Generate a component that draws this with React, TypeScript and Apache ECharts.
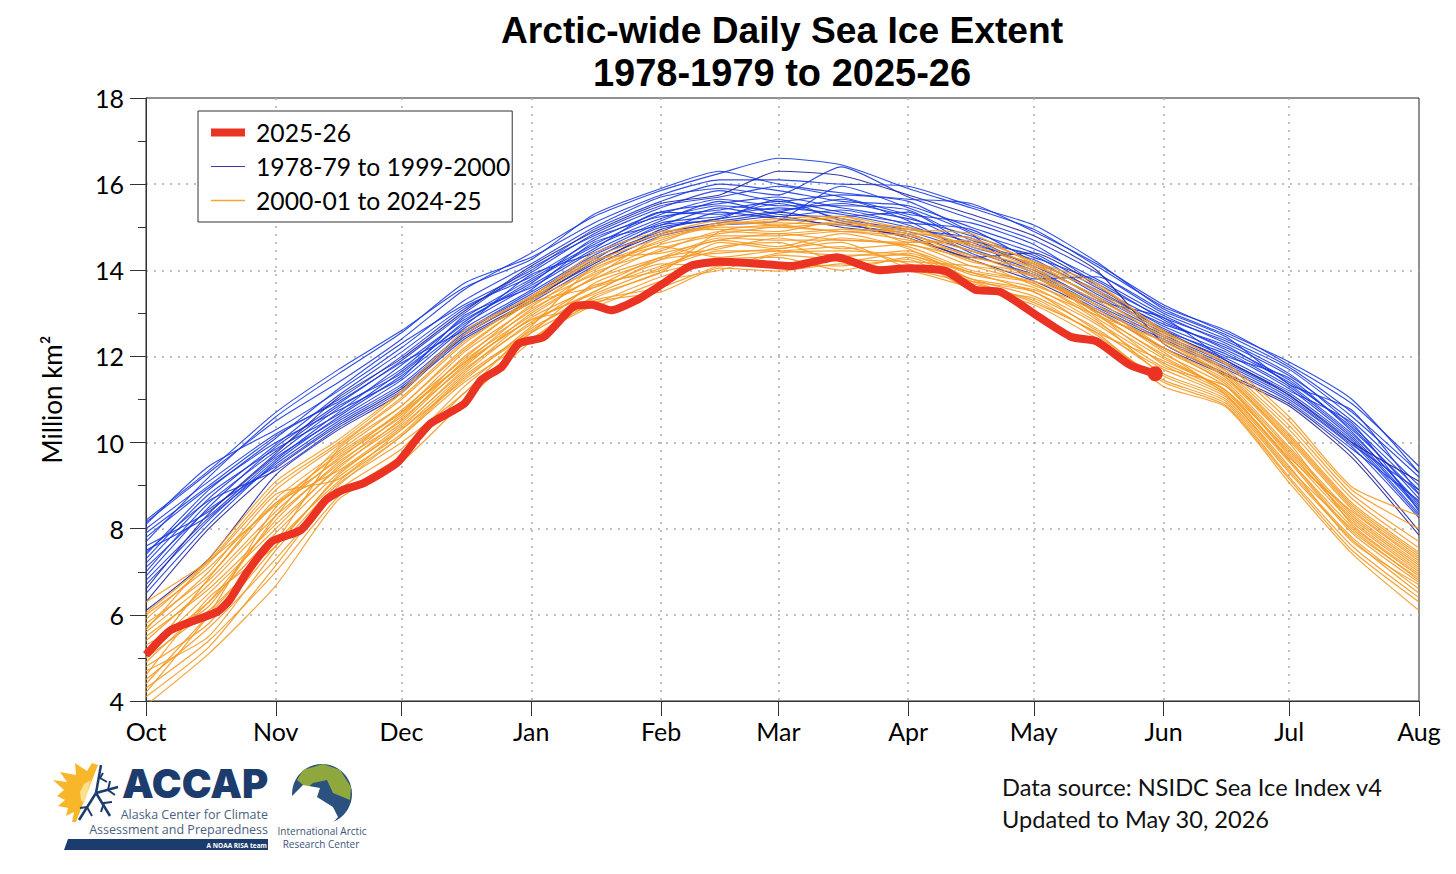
import React, { useEffect, useRef } from "react";
import * as echarts from "echarts";

const titleLines = ["Arctic-wide Daily Sea Ice Extent", "1978-1979 to 2025-26"];
const monthDays = [0, 31, 61, 92, 123, 151, 182, 212, 243, 273, 304];
const monthLabels = ["Oct", "Nov", "Dec", "Jan", "Feb", "Mar", "Apr", "May", "Jun", "Jul", "Aug"];
const knotDays = [0, 15, 31, 46, 61, 76, 92, 107, 123, 137, 151, 166, 182, 197, 212, 227, 243, 258, 273, 288, 304];

const redName = "2025-26";
const blueName = "1978-79 to 1999-2000";
const orangeName = "2000-01 to 2024-25";

const redDays = [0, 6, 17, 20, 24, 30, 37, 43, 47, 52, 60, 65, 68, 76, 80, 85, 89, 95, 102, 106.5, 111, 117, 123, 130, 137, 144, 154, 165, 175, 182, 191, 198, 204, 213.5, 221, 227, 235, 241];
const redValues = [5.07, 5.65, 6.07, 6.35, 6.97, 7.7, 7.97, 8.67, 8.9, 9.06, 9.53, 10.13, 10.45, 10.9, 11.45, 11.76, 12.3, 12.45, 13.15, 13.2, 13.07, 13.3, 13.66, 14.1, 14.2, 14.17, 14.1, 14.3, 14.0, 14.05, 13.98, 13.55, 13.5, 12.9, 12.45, 12.35, 11.8, 11.6];

const blueRows = [
  [6.1, 7.3, 9.25, 10.3, 11.15, 12.5, 13.35, 14.15, 14.95, 15.2, 15.35, 15.1, 14.75, 14.25, 13.75, 13.05, 12.2, 11.55, 10.85, 9.65, 7.85],
  [8.15, 9.3, 10.5, 11.4, 12.4, 13.55, 14.4, 15.25, 15.85, 16.25, 16.6, 16.45, 15.9, 15.45, 14.95, 14.1, 13.15, 12.6, 11.8, 10.9, 9.45],
  [7.7, 9.2, 10.6, 11.6, 12.55, 13.7, 14.3, 15.1, 15.75, 16.1, 16.1, 16.0, 15.95, 15.5, 15.05, 14.2, 13.1, 12.5, 11.75, 10.7, 9.3],
  [8.1, 9.45, 10.3, 11.2, 12.2, 13.3, 14.15, 15.0, 15.7, 15.9, 15.75, 16.4, 15.7, 15.2, 14.7, 13.95, 13.0, 12.4, 11.7, 10.6, 9.2],
  [7.4, 8.9, 10.1, 11.25, 12.3, 13.2, 14.0, 14.95, 15.6, 16.0, 15.85, 15.6, 15.5, 15.0, 14.5, 13.8, 12.95, 12.3, 11.55, 10.5, 9.0],
  [7.9, 9.0, 10.15, 11.0, 12.0, 13.1, 13.95, 14.85, 15.5, 15.7, 15.95, 15.7, 15.3, 15.1, 14.6, 13.7, 12.9, 12.35, 11.6, 10.4, 8.9],
  [6.9, 8.5, 9.9, 10.9, 11.9, 13.0, 14.05, 14.8, 15.45, 15.85, 15.6, 15.75, 15.6, 14.9, 14.4, 13.6, 12.8, 12.2, 11.45, 10.3, 8.8],
  [7.2, 8.7, 9.95, 11.1, 12.1, 13.15, 13.85, 14.7, 15.35, 15.55, 15.7, 15.45, 15.2, 14.8, 14.3, 13.75, 12.85, 12.15, 11.4, 10.35, 8.7],
  [7.6, 8.4, 9.7, 10.8, 11.7, 12.9, 13.8, 14.6, 15.3, 15.65, 15.5, 15.5, 15.4, 14.7, 14.35, 13.5, 12.75, 12.25, 11.35, 10.2, 8.6],
  [6.7, 8.2, 9.6, 10.7, 11.8, 12.85, 13.7, 14.75, 15.25, 15.4, 15.6, 15.35, 15.1, 14.95, 14.2, 13.55, 12.7, 12.1, 11.3, 10.15, 8.5],
  [7.0, 8.6, 9.8, 10.85, 11.6, 12.8, 13.75, 14.55, 15.2, 15.5, 15.4, 15.55, 15.25, 14.6, 14.25, 13.45, 12.65, 12.0, 11.5, 10.25, 8.55],
  [7.3, 8.8, 9.85, 10.65, 11.65, 12.75, 13.65, 14.5, 15.35, 15.3, 15.45, 15.3, 15.0, 14.65, 14.1, 13.4, 12.6, 12.05, 11.25, 10.1, 8.45],
  [7.8, 8.95, 10.0, 10.75, 11.5, 12.95, 13.6, 14.45, 15.15, 15.6, 15.3, 15.25, 15.35, 14.55, 14.15, 13.35, 12.55, 11.95, 11.2, 10.45, 8.4],
  [6.5, 8.1, 9.55, 10.6, 11.55, 12.7, 13.9, 14.4, 15.1, 15.25, 15.55, 15.2, 14.95, 14.75, 14.05, 13.3, 12.9, 11.9, 11.15, 10.05, 8.35],
  [7.5, 8.3, 9.65, 10.55, 11.45, 12.65, 13.55, 14.65, 15.05, 15.45, 15.25, 15.4, 15.05, 14.5, 14.0, 13.25, 12.5, 11.85, 11.1, 10.0, 8.3],
  [8.0, 9.1, 10.2, 10.95, 11.85, 12.6, 13.5, 14.35, 15.0, 15.2, 15.65, 15.15, 14.9, 14.45, 13.95, 13.2, 12.45, 11.8, 11.05, 9.95, 8.9],
  [6.8, 8.25, 9.5, 10.5, 11.35, 12.55, 13.45, 14.3, 14.9, 15.35, 15.2, 15.05, 14.85, 14.35, 13.9, 13.15, 12.4, 11.75, 11.0, 9.9, 8.25],
  [7.1, 8.45, 9.45, 10.45, 11.3, 12.5, 13.4, 14.25, 15.05, 15.15, 15.35, 15.65, 15.15, 14.4, 13.85, 13.1, 12.35, 11.7, 10.95, 9.85, 8.65],
  [6.3, 8.0, 9.4, 10.4, 11.25, 12.45, 13.3, 14.2, 14.85, 15.1, 15.25, 15.0, 14.8, 14.3, 14.4, 13.65, 12.6, 11.9, 11.1, 10.0, 9.1],
  [7.45, 8.65, 9.35, 10.35, 11.2, 12.4, 13.25, 14.1, 14.8, 15.05, 15.15, 15.95, 15.45, 14.85, 13.8, 13.85, 13.05, 12.45, 11.35, 10.75, 8.8],
  [6.6, 8.35, 9.75, 11.05, 11.95, 13.05, 14.1, 14.9, 15.55, 15.75, 16.3, 16.2, 15.75, 15.3, 14.8, 14.0, 12.3, 11.6, 10.9, 9.75, 7.95],
  [8.2, 9.35, 10.7, 11.7, 12.6, 13.6, 14.25, 15.3, 15.9, 16.3, 16.0, 15.8, 15.65, 15.55, 14.9, 14.15, 13.2, 12.55, 11.87, 11.0, 9.3],
];

const orangeRows = [
  [6.3, 7.25, 8.55, 9.75, 10.7, 11.85, 12.85, 13.45, 14.05, 14.45, 14.45, 14.55, 14.15, 13.75, 13.25, 12.55, 11.3, 10.82, 9.07, 7.42, 6.1],
  [3.9, 5.1, 6.68, 8.68, 9.55, 10.95, 12.35, 13.25, 13.5, 14.05, 13.98, 14.15, 14.0, 13.6, 13.2, 12.42, 11.45, 10.9, 9.2, 7.6, 6.4],
  [4.3, 5.4, 7.0, 8.75, 9.7, 11.15, 12.4, 13.2, 13.85, 14.15, 14.1, 14.3, 14.45, 13.95, 13.7, 12.85, 11.55, 10.95, 9.3, 7.75, 6.5],
  [4.5, 5.7, 7.3, 8.9, 9.85, 11.3, 12.55, 13.7, 14.25, 14.7, 14.55, 14.85, 14.5, 13.8, 13.4, 12.65, 11.6, 11.0, 9.35, 7.8, 6.6],
  [4.7, 5.5, 7.5, 9.05, 10.0, 11.15, 12.65, 13.35, 13.95, 14.25, 14.3, 14.0, 14.3, 13.75, 13.5, 12.6, 11.7, 11.05, 9.45, 7.7, 6.7],
  [4.4, 6.0, 7.7, 9.1, 10.15, 11.4, 12.4, 13.4, 13.95, 14.9, 15.05, 14.9, 14.95, 14.45, 14.05, 13.0, 11.8, 11.1, 9.55, 7.9, 6.75],
  [4.8, 5.8, 7.6, 9.2, 10.2, 11.55, 12.6, 13.5, 14.15, 14.1, 14.4, 14.45, 14.35, 13.95, 13.5, 12.75, 11.75, 11.3, 9.75, 8.25, 7.1],
  [5.0, 6.1, 7.7, 9.85, 10.85, 12.2, 13.25, 13.6, 14.1, 14.55, 14.65, 14.2, 14.4, 13.9, 13.6, 12.8, 11.85, 11.15, 9.6, 7.95, 6.85],
  [5.2, 6.3, 7.9, 9.3, 10.3, 11.6, 12.8, 13.5, 14.25, 14.4, 14.5, 14.65, 14.05, 13.7, 13.3, 12.55, 11.9, 11.2, 9.6, 8.05, 6.9],
  [4.6, 6.4, 7.6, 9.25, 10.35, 11.7, 12.75, 13.65, 14.0, 14.65, 14.5, 14.75, 14.55, 14.0, 13.75, 13.2, 12.2, 11.45, 10.0, 8.1, 6.95],
  [6.0, 7.1, 8.6, 9.35, 10.4, 11.65, 12.9, 13.6, 14.3, 14.5, 14.75, 14.5, 14.6, 14.1, 13.7, 12.95, 12.05, 11.3, 9.7, 8.15, 7.0],
  [5.1, 6.5, 8.0, 9.45, 10.45, 11.8, 12.85, 13.15, 13.75, 14.0, 14.35, 14.25, 14.2, 14.1, 13.85, 13.0, 12.0, 11.2, 9.8, 8.2, 7.05],
  [5.5, 6.6, 8.1, 9.4, 10.55, 11.75, 13.0, 13.8, 14.3, 14.75, 14.7, 14.7, 14.6, 14.25, 13.65, 13.1, 12.1, 11.1, 9.4, 8.0, 6.8],
  [4.9, 6.3, 8.2, 9.55, 10.5, 11.9, 12.95, 13.85, 14.8, 15.05, 15.2, 15.25, 14.75, 14.2, 13.9, 13.05, 12.2, 11.35, 9.85, 8.3, 7.15],
  [5.4, 6.7, 8.3, 9.5, 10.65, 11.85, 13.1, 13.8, 14.5, 14.8, 14.8, 14.9, 14.7, 14.35, 13.85, 13.2, 12.15, 11.4, 9.9, 8.35, 7.2],
  [5.6, 6.8, 8.4, 9.65, 10.6, 12.0, 13.05, 13.95, 14.45, 14.9, 14.85, 14.95, 14.85, 14.3, 14.0, 12.9, 11.95, 11.2, 9.65, 8.4, 7.25],
  [4.2, 6.0, 8.5, 9.6, 10.75, 11.95, 13.2, 13.9, 14.6, 14.85, 15.0, 14.9, 14.8, 14.45, 13.95, 13.3, 12.3, 11.5, 10.05, 8.45, 7.3],
  [5.8, 6.9, 8.6, 9.7, 10.7, 12.1, 13.15, 14.05, 14.55, 14.3, 14.45, 14.35, 14.35, 13.8, 13.55, 12.95, 12.35, 11.5, 10.1, 8.5, 7.35],
  [5.0, 6.85, 8.7, 9.8, 10.85, 12.15, 13.3, 14.0, 14.7, 15.0, 15.0, 15.1, 14.9, 14.6, 14.05, 13.4, 12.4, 11.55, 10.15, 8.55, 7.4],
  [5.7, 7.0, 8.8, 9.15, 10.3, 11.45, 12.7, 14.1, 14.65, 15.1, 15.1, 15.05, 15.0, 14.55, 14.15, 13.35, 12.45, 11.6, 10.2, 8.6, 7.45],
  [5.3, 6.2, 8.3, 9.9, 11.0, 12.3, 13.35, 14.2, 14.75, 15.05, 15.15, 15.2, 14.65, 14.7, 14.2, 13.5, 12.5, 11.65, 10.3, 8.7, 7.55],
  [5.9, 7.2, 8.9, 9.95, 11.05, 12.35, 13.3, 14.25, 14.4, 14.7, 14.85, 14.7, 14.65, 14.65, 14.1, 13.55, 12.55, 11.7, 10.4, 8.8, 7.7],
  [4.1, 5.25, 7.15, 9.0, 10.15, 11.5, 12.55, 13.3, 13.6, 14.1, 14.15, 14.1, 14.25, 13.55, 13.35, 12.5, 11.4, 10.85, 9.15, 7.5, 6.3],
  [6.05, 7.25, 9.0, 10.0, 11.15, 12.5, 13.4, 14.3, 14.85, 15.15, 15.05, 15.25, 14.95, 14.85, 14.15, 13.65, 12.6, 11.8, 10.5, 8.9, 8.0],
  [5.65, 7.3, 9.1, 10.07, 11.2, 12.6, 13.38, 14.4, 14.9, 14.95, 14.9, 15.15, 14.85, 14.75, 14.2, 13.7, 12.58, 11.85, 10.6, 8.97, 8.3],
];

const navy = "#1d3c6e";
const font = "Lato";

const pageGraphics: any[] = [
  { type: "text", x: 782, y: 30, style: { text: titleLines[0], fill: "#000", font: "bold 37.2px 'Liberation Sans'", textAlign: "center", textVerticalAlign: "middle" } },
  { type: "text", x: 782, y: 73, style: { text: titleLines[1], fill: "#000", font: "bold 38px 'Liberation Sans'", textAlign: "center", textVerticalAlign: "middle" } },
  { type: "polygon", shape: { points: [[98, 765], [92, 763], [87, 771], [75, 763], [76, 775], [60, 772], [67, 782], [53, 780], [64, 790], [57, 796], [65, 800], [58, 806], [68, 808], [66, 816], [74, 812], [72, 822], [76, 822]] }, style: { fill: "#f8b62a" } },
  { type: "polygon", shape: { points: [[91, 780], [84, 784], [80, 792], [81, 800], [84, 804]] }, style: { fill: "#fde08a" } },
  { type: "line", shape: { x1: 96, y1: 793, x2: 118, y2: 787 }, style: { stroke: navy, lineWidth: 2.5 } },
  { type: "line", shape: { x1: 96, y1: 793, x2: 101, y2: 765 }, style: { stroke: navy, lineWidth: 2.5 } },
  { type: "line", shape: { x1: 96, y1: 793, x2: 110, y2: 816 }, style: { stroke: navy, lineWidth: 2.5 } },
  { type: "line", shape: { x1: 96, y1: 793, x2: 79, y2: 820 }, style: { stroke: navy, lineWidth: 2.5 } },
  { type: "polyline", shape: { points: [[103, 773], [100, 778], [107, 782]] }, style: { fill: "none", stroke: navy, lineWidth: 2 } },
  { type: "polyline", shape: { points: [[110, 781], [108, 790], [115, 795]] }, style: { fill: "none", stroke: navy, lineWidth: 2 } },
  { type: "polyline", shape: { points: [[112, 802], [104, 803], [101, 812]] }, style: { fill: "none", stroke: navy, lineWidth: 2 } },
  { type: "polyline", shape: { points: [[80, 808], [87, 807], [92, 816]] }, style: { fill: "none", stroke: navy, lineWidth: 2 } },
  { type: "text", x: 122, y: 763, style: { text: "ACCAP", fill: navy, font: "900 40px Inter" } },
  { type: "text", x: 268, y: 814, style: { text: "Alaska Center for Climate", fill: "#4a5f80", font: "12.5px 'Open Sans'", textAlign: "right", textVerticalAlign: "middle" } },
  { type: "text", x: 268, y: 829, style: { text: "Assessment and Preparedness", fill: "#4a5f80", font: "12.5px 'Open Sans'", textAlign: "right", textVerticalAlign: "middle" } },
  { type: "polygon", shape: { points: [[68, 839], [268, 839], [268, 850], [64, 850]] }, style: { fill: navy } },
  { type: "text", x: 267, y: 845, style: { text: "A NOAA RISA team", fill: "#ffffff", font: "bold 6.5px 'Open Sans'", textAlign: "right", textVerticalAlign: "middle" } },
  { type: "circle", shape: { cx: 322, cy: 794, r: 30 }, style: { fill: "#2b517e" } },
  { type: "polygon", shape: { points: [[297, 780], [303, 770], [323, 764], [340, 770], [351, 787], [350, 800], [333, 793], [327, 780], [313, 783], [307, 788]] }, style: { fill: "#8fa83d" } },
  { type: "polygon", shape: { points: [[291, 797], [303, 785], [320, 788], [317, 797], [333, 807], [338, 817], [330, 826], [303, 826], [295, 812]] }, style: { fill: "#ffffff" } },
  { type: "text", x: 322, y: 831, style: { text: "International Arctic", fill: "#3c5578", font: "10px 'Open Sans'", textAlign: "center", textVerticalAlign: "middle" } },
  { type: "text", x: 321, y: 844, style: { text: "Research Center", fill: "#3c5578", font: "10px 'Open Sans'", textAlign: "center", textVerticalAlign: "middle" } },
  { type: "text", x: 1002, y: 787, style: { text: "Data source: NSIDC Sea Ice Index v4", fill: "#111", font: `23.6px ${font}`, textVerticalAlign: "middle" } },
  { type: "text", x: 1002, y: 819, style: { text: "Updated to May 30, 2026", fill: "#111", font: `23.6px ${font}`, textVerticalAlign: "middle" } },
];

function lineSeries(name: string, days: number[], values: number[], color: string, width: number, opacity: number, z: number) {
  return {
    name,
    type: "line",
    data: days.map((d, i) => [d, values[i]]),
    showSymbol: false,
    symbol: "none",
    smooth: 0.2,
    silent: true,
    z,
    lineStyle: { color, width, opacity },
    itemStyle: { color },
  };
}

const darkBlue = [0, 18, 20];

export default function App() {
  const ref = useRef<HTMLDivElement>(null);
  useEffect(() => {
    const chart = echarts.init(ref.current!, undefined, { renderer: "svg" });
    const series: any[] = [
      lineSeries(redName, redDays, redValues, "#ea3323", 8, 1, 5),
      ...blueRows.map((r, i) => lineSeries(blueName, knotDays, r, darkBlue.includes(i) ? "#24249a" : "#1a3be0", 1.1, 0.9, 2)),
      ...orangeRows.map((r) => lineSeries(orangeName, knotDays, r, "#f59a23", 1.2, 0.9, 3)),
      {
        name: "end",
        type: "scatter",
        data: [[redDays[redDays.length - 1], redValues[redValues.length - 1]]],
        symbol: "circle",
        symbolSize: 15,
        itemStyle: { color: "#ea3323", opacity: 1 },
        silent: true,
        z: 6,
      },
    ];
    chart.setOption({
      animation: false,
      backgroundColor: "#ffffff",
      legend: {
        data: [
          { name: redName, lineStyle: { width: 8 } },
          { name: blueName, lineStyle: { width: 1 } },
          { name: orangeName, lineStyle: { width: 1.5 } },
        ],
        orient: "vertical",
        left: 198,
        top: 111,
        padding: [9, 2, 9, 9],
        itemGap: 9,
        itemWidth: 34,
        itemHeight: 14,
        borderColor: "#333",
        borderWidth: 1,
        backgroundColor: "#fff",
        selectedMode: false,
        itemStyle: { opacity: 0 },
        textStyle: { fontFamily: font, fontSize: 24.7, color: "#000", padding: [0, 0, 0, 6] },
        z: 10,
      },
      grid: { left: 146, top: 98, width: 1273, height: 603, show: true, borderColor: "#222", borderWidth: 1, backgroundColor: "transparent" },
      xAxis: {
        type: "value",
        min: 0,
        max: 304,
        axisLine: { show: true, lineStyle: { color: "#333" } },
        axisTick: { show: true, length: 15, customValues: monthDays, lineStyle: { color: "#333" } },
        axisLabel: {
          customValues: monthDays,
          margin: 17,
          fontFamily: font,
          fontSize: 25,
          color: "#000",
          hideOverlap: false,
          showMinLabel: true,
          showMaxLabel: true,
          formatter: (v: number) => monthLabels[monthDays.indexOf(v)] ?? "",
        },
        splitLine: { show: true, showMinLine: false, showMaxLine: false, customValues: monthDays, lineStyle: { color: "#aaa", type: [2, 6], width: 1.5 } },
        minorTick: { show: false },
      },
      yAxis: {
        type: "value",
        min: 4,
        max: 18,
        interval: 2,
        name: "Million km²",
        nameLocation: "middle",
        nameRotate: 90,
        nameGap: 81,
        nameTextStyle: { fontFamily: font, fontSize: 26, color: "#000" },
        axisLine: { show: true, lineStyle: { color: "#333" } },
        axisTick: { show: true, length: 16, lineStyle: { color: "#333" } },
        minorTick: { show: true, splitNumber: 2, length: 8, lineStyle: { color: "#333" } },
        axisLabel: { margin: 22, fontFamily: font, fontSize: 25, color: "#000" },
        splitLine: { show: true, showMinLine: false, showMaxLine: false, lineStyle: { color: "#aaa", type: [2, 6], width: 1.5 } },
      },
      series,
      graphic: pageGraphics,
    });
    return () => chart.dispose();
  }, []);
  return <div ref={ref} style={{ position: "absolute", left: 0, top: 0, width: 1456, height: 874, background: "#fff" }} />;
}
